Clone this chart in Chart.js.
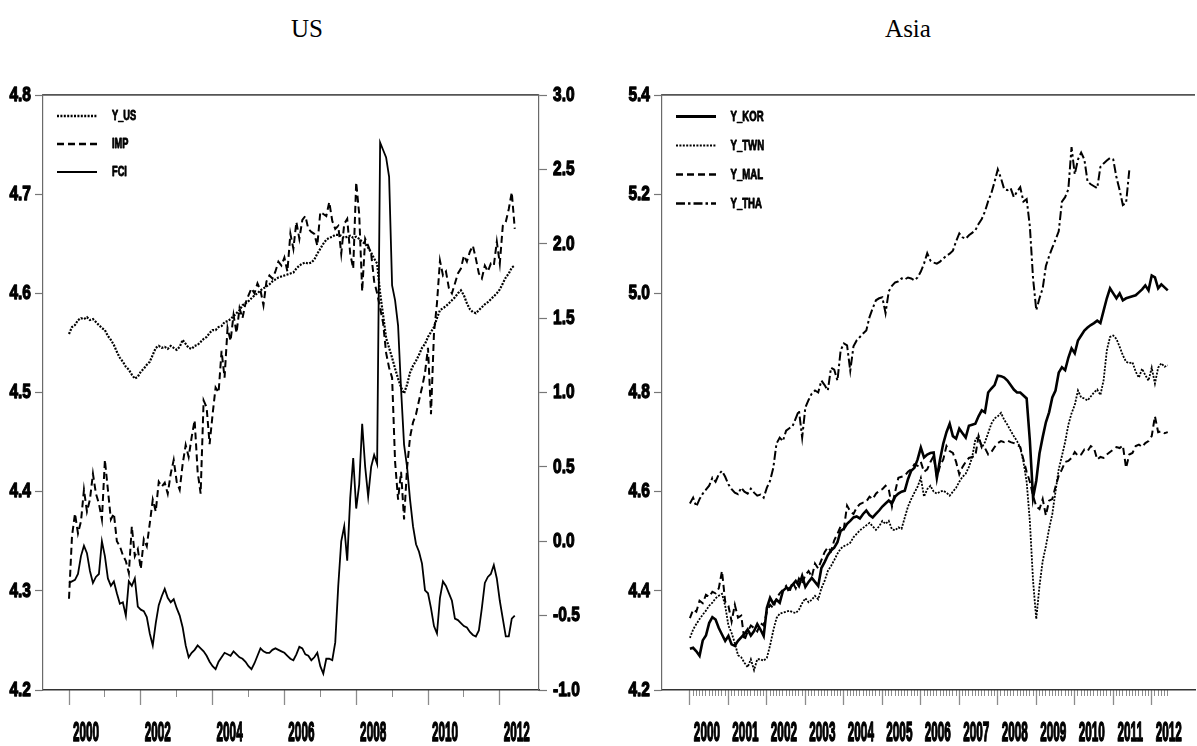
<!DOCTYPE html>
<html>
<head>
<meta charset="utf-8">
<script src="https://cdn.jsdelivr.net/npm/chart.js@4.4.1/dist/chart.umd.min.js"></script>
<style>
html,body{margin:0;padding:0;background:#fff;width:1197px;height:746px;overflow:hidden;position:relative;}
canvas{position:absolute;top:0;}
#cUS{left:0;}
#cAS{left:598px;}
.ttl{position:absolute;top:15px;font-family:'Liberation Serif','Times New Roman',serif;font-size:25px;line-height:28px;color:#000;transform:translateX(-50%);white-space:nowrap;}
</style>
</head>
<body>
<div class="ttl" style="left:307px">US</div>
<div class="ttl" style="left:908px">Asia</div>
<canvas id="cUS" width="590" height="746"></canvas>
<canvas id="cAS" width="599" height="746"></canvas>
<script>
// ---------- time index (monthly, starting 2000:01) ----------
const START_YEAR = 2000;
const N_MONTHS = 150;
const MONTH_T = Array.from({length: N_MONTHS}, (_, i) => START_YEAR + i / 12);

// ---------- tick labels ----------
const US_MINOR_YEARS = [2000,2001,2002,2003,2004,2005,2006,2007,2008,2009,2010,2011,2012];
const US_LABEL_YEARS = [2000,2002,2004,2006,2008,2010,2012];
const ASIA_LABEL_YEARS = [2000,2001,2002,2003,2004,2005,2006,2007,2008,2009,2010,2011,2012];
const US_LEFT_TICKS = [4.2,4.3,4.4,4.5,4.6,4.7,4.8];
const US_RIGHT_TICKS = [-1.0,-0.5,0.0,0.5,1.0,1.5,2.0,2.5,3.0];
const ASIA_TICKS = [4.2,4.4,4.6,4.8,5.0,5.2,5.4];

// ---------- US panel series ----------
const Y_US = [4.559,4.566,4.568,4.573,4.575,4.574,4.576,4.573,4.574,4.571,
4.568,4.565,4.563,4.557,4.553,4.548,4.541,4.535,4.531,4.526,
4.523,4.518,4.514,4.516,4.521,4.524,4.528,4.531,4.538,4.545,
4.547,4.545,4.546,4.544,4.547,4.545,4.543,4.546,4.553,4.549,
4.545,4.544,4.547,4.548,4.551,4.554,4.556,4.560,4.563,4.563,
4.566,4.567,4.571,4.572,4.574,4.577,4.580,4.583,4.588,4.590,
4.592,4.595,4.598,4.600,4.603,4.605,4.607,4.609,4.612,4.614,
4.616,4.617,4.618,4.619,4.620,4.621,4.625,4.628,4.630,4.631,
4.630,4.631,4.634,4.640,4.645,4.650,4.654,4.656,4.657,4.659,
4.659,4.658,4.656,4.657,4.658,4.656,4.657,4.655,4.652,4.650,
4.646,4.641,4.635,4.630,4.600,4.578,4.555,4.545,4.535,4.524,
4.514,4.505,4.499,4.508,4.520,4.527,4.532,4.538,4.545,4.549,
4.556,4.561,4.566,4.575,4.583,4.585,4.587,4.590,4.593,4.596,
4.600,4.603,4.598,4.590,4.584,4.581,4.580,4.583,4.586,4.589,
4.591,4.594,4.597,4.600,4.604,4.610,4.616,4.620,4.626,4.628];

const IMP = [4.292,4.355,4.378,4.358,4.370,4.402,4.380,4.392,4.418,4.398,
4.388,4.372,4.432,4.402,4.372,4.378,4.350,4.345,4.336,4.330,
4.318,4.365,4.335,4.342,4.322,4.352,4.345,4.368,4.392,4.380,
4.410,4.405,4.409,4.398,4.418,4.432,4.410,4.402,4.428,4.447,
4.435,4.455,4.472,4.420,4.398,4.492,4.485,4.448,4.478,4.505,
4.500,4.542,4.515,4.565,4.552,4.578,4.560,4.585,4.575,4.590,
4.598,4.605,4.600,4.610,4.603,4.588,4.612,4.618,4.615,4.622,
4.632,4.628,4.636,4.622,4.660,4.645,4.672,4.655,4.674,4.678,
4.665,4.662,4.660,4.648,4.682,4.680,4.678,4.692,4.673,4.665,
4.668,4.640,4.670,4.675,4.640,4.625,4.712,4.680,4.602,4.655,
4.648,4.640,4.612,4.600,4.585,4.570,4.540,4.525,4.515,4.430,
4.392,4.420,4.372,4.424,4.455,4.470,4.478,4.492,4.505,4.520,
4.545,4.478,4.560,4.590,4.633,4.618,4.622,4.605,4.600,4.610,
4.620,4.625,4.638,4.632,4.642,4.648,4.635,4.620,4.615,4.628,
4.622,4.630,4.628,4.652,4.630,4.668,4.672,4.685,4.702,4.665];

const FCI = [-0.28,-0.27,-0.26,-0.22,-0.10,-0.03,-0.08,-0.20,-0.28,-0.24,
-0.22,0.00,-0.10,-0.25,-0.30,-0.27,-0.35,-0.42,-0.41,-0.50,
-0.27,-0.30,-0.25,-0.44,-0.46,-0.47,-0.51,-0.62,-0.70,-0.55,
-0.43,-0.37,-0.32,-0.38,-0.41,-0.39,-0.45,-0.50,-0.58,-0.70,
-0.78,-0.75,-0.73,-0.70,-0.72,-0.74,-0.77,-0.81,-0.84,-0.86,
-0.81,-0.78,-0.75,-0.76,-0.77,-0.74,-0.76,-0.78,-0.79,-0.81,
-0.84,-0.86,-0.82,-0.77,-0.72,-0.74,-0.75,-0.75,-0.73,-0.72,
-0.73,-0.74,-0.75,-0.77,-0.79,-0.80,-0.76,-0.71,-0.72,-0.76,
-0.77,-0.80,-0.78,-0.75,-0.84,-0.89,-0.79,-0.79,-0.80,-0.68,
-0.30,0.00,0.10,-0.13,0.29,0.56,0.22,0.38,0.79,0.50,
0.30,0.50,0.58,0.52,2.68,2.63,2.58,2.45,1.72,1.62,
1.45,1.02,0.65,0.50,0.28,0.10,-0.02,-0.07,-0.15,-0.33,
-0.35,-0.45,-0.57,-0.62,-0.38,-0.27,-0.30,-0.35,-0.40,-0.52,
-0.53,-0.55,-0.57,-0.58,-0.61,-0.63,-0.64,-0.60,-0.45,-0.28,
-0.24,-0.22,-0.16,-0.25,-0.40,-0.52,-0.64,-0.64,-0.52,-0.50];

// ---------- Asia panel series ----------
const Y_KOR = [4.283,4.285,4.278,4.269,4.300,4.310,4.335,4.347,4.342,4.325,
4.312,4.299,4.309,4.292,4.289,4.299,4.306,4.313,4.322,4.310,
4.319,4.333,4.322,4.309,4.366,4.386,4.374,4.382,4.376,4.400,
4.406,4.404,4.412,4.420,4.410,4.430,4.408,4.418,4.426,4.418,
4.410,4.446,4.458,4.472,4.481,4.487,4.498,4.521,4.525,4.535,
4.541,4.548,4.550,4.546,4.555,4.562,4.553,4.548,4.555,4.562,
4.570,4.576,4.582,4.576,4.590,4.596,4.600,4.602,4.625,4.642,
4.648,4.665,4.689,4.669,4.675,4.678,4.679,4.628,4.665,4.697,
4.720,4.737,4.712,4.707,4.727,4.718,4.709,4.733,4.735,4.737,
4.752,4.764,4.760,4.800,4.808,4.815,4.834,4.833,4.830,4.824,
4.815,4.806,4.800,4.800,4.794,4.788,4.703,4.588,4.622,4.677,
4.710,4.740,4.760,4.790,4.804,4.840,4.851,4.845,4.870,4.889,
4.879,4.905,4.915,4.925,4.931,4.936,4.940,4.945,4.940,4.965,
4.990,5.010,5.000,4.990,5.000,4.986,4.990,4.992,4.994,4.996,
5.002,5.008,5.016,5.006,5.036,5.032,5.010,5.018,5.012,5.006];

const Y_TWN = [4.305,4.322,4.333,4.343,4.352,4.360,4.370,4.376,4.385,4.390,
4.394,4.370,4.330,4.315,4.295,4.270,4.266,4.255,4.246,4.262,
4.240,4.262,4.262,4.259,4.265,4.290,4.320,4.345,4.354,4.356,
4.358,4.360,4.357,4.355,4.362,4.375,4.385,4.377,4.382,4.390,
4.383,4.405,4.420,4.440,4.450,4.462,4.475,4.485,4.490,4.493,
4.497,4.508,4.515,4.522,4.527,4.532,4.537,4.530,4.523,4.530,
4.541,4.535,4.541,4.524,4.522,4.528,4.525,4.548,4.570,4.585,
4.598,4.610,4.628,4.590,4.605,4.612,4.600,4.596,4.600,4.602,
4.598,4.592,4.600,4.608,4.620,4.630,4.636,4.650,4.669,4.705,
4.712,4.689,4.700,4.718,4.737,4.748,4.752,4.759,4.745,4.735,
4.723,4.712,4.702,4.689,4.660,4.620,4.540,4.420,4.343,4.410,
4.460,4.490,4.525,4.555,4.600,4.645,4.672,4.700,4.735,4.758,
4.775,4.804,4.790,4.788,4.784,4.792,4.800,4.806,4.795,4.825,
4.885,4.912,4.915,4.908,4.892,4.875,4.862,4.859,4.861,4.842,
4.830,4.848,4.835,4.824,4.850,4.818,4.850,4.859,4.852,4.855];

const Y_MAL = [4.345,4.362,4.358,4.380,4.375,4.392,4.388,4.398,4.395,4.405,
4.440,4.378,4.370,4.338,4.372,4.346,4.350,4.300,4.318,4.330,
4.325,4.318,4.335,4.330,4.358,4.372,4.365,4.385,4.395,4.402,
4.410,4.396,4.418,4.405,4.425,4.415,4.432,4.440,4.428,4.455,
4.445,4.462,4.478,4.488,4.480,4.502,4.515,4.530,4.525,4.572,
4.560,4.555,4.568,4.575,4.578,4.580,4.590,4.585,4.596,4.602,
4.605,4.612,4.605,4.570,4.600,4.628,4.630,4.632,4.640,4.645,
4.655,4.652,4.660,4.640,4.645,4.660,4.672,4.630,4.652,4.665,
4.692,4.682,4.678,4.660,4.635,4.650,4.660,4.668,4.670,4.672,
4.712,4.690,4.688,4.675,4.680,4.690,4.698,4.702,4.700,4.703,
4.700,4.698,4.695,4.690,4.665,4.640,4.620,4.592,4.570,4.565,
4.585,4.552,4.582,4.585,4.610,4.632,4.645,4.660,4.662,4.668,
4.680,4.672,4.675,4.685,4.682,4.692,4.688,4.665,4.670,4.668,
4.675,4.680,4.685,4.690,4.688,4.693,4.648,4.675,4.678,4.692,
4.695,4.690,4.698,4.702,4.712,4.752,4.720,4.722,4.718,4.720];

const Y_THA = [4.576,4.588,4.570,4.585,4.596,4.604,4.612,4.628,4.620,4.635,
4.642,4.630,4.615,4.605,4.598,4.595,4.608,4.600,4.596,4.606,
4.598,4.592,4.594,4.588,4.608,4.622,4.648,4.697,4.709,4.702,
4.723,4.728,4.732,4.748,4.764,4.709,4.770,4.785,4.798,4.804,
4.800,4.824,4.815,4.804,4.850,4.846,4.824,4.885,4.899,4.895,
4.844,4.893,4.905,4.912,4.919,4.925,4.952,4.970,4.986,4.990,
4.992,4.960,5.004,5.015,5.022,5.024,5.030,5.028,5.032,5.030,
5.026,5.032,5.044,5.060,5.081,5.066,5.062,5.060,5.064,5.070,
5.076,5.080,5.086,5.105,5.121,5.113,5.110,5.117,5.122,5.127,
5.140,5.150,5.165,5.186,5.202,5.225,5.250,5.232,5.210,5.208,
5.212,5.194,5.205,5.214,5.185,5.190,5.135,5.030,4.966,4.990,
5.010,5.055,5.075,5.092,5.108,5.125,5.185,5.194,5.210,5.295,
5.240,5.270,5.284,5.270,5.225,5.220,5.216,5.212,5.255,5.262,
5.268,5.273,5.270,5.234,5.208,5.178,5.182,5.248];

// ---------- helpers ----------
const FONT = "'Liberation Sans', Arial, sans-serif";
// horizontal squeeze + extra stroke per font size (the original uses a tall, heavy condensed face)
const SQUEEZE = {28: 0.42, 21: 0.74, 14: 0.66, 15: 0.64};
const EMBOLDEN = {28: 1.6, 21: 1.3, 14: 0.9, 15: 0.9};
const TEXT_SHIFT = {14: 8, 15: 7};   // extra gap between legend sample line and its label
function condenseText(canvas) {
  const ctx = canvas.getContext('2d');
  const nativeFill = ctx.fillText;
  const nativeStroke = ctx.strokeText;
  ctx.fillText = function (text, x, y) {
    const m = /(\d+(?:\.\d+)?)px/.exec(this.font);
    const sz = m ? Math.round(parseFloat(m[1])) : 0;
    const f = SQUEEZE[sz] || 1;
    this.save();
    this.translate(x + (TEXT_SHIFT[sz] || 0), y);
    this.scale(f, 1);
    nativeFill.call(this, text, 0, 0);
    if (EMBOLDEN[sz]) {
      this.setLineDash([]);
      this.lineJoin = 'round';
      this.lineWidth = EMBOLDEN[sz];
      this.strokeStyle = this.fillStyle;
      nativeStroke.call(this, text, 0, 0);
    }
    this.restore();
  };
}
function series(vals) { return vals.map((v, i) => ({x: MONTH_T[i], y: v})); }
function line(label, vals, dash, width, yId) {
  return {label, data: series(vals), xAxisID: 'x', yAxisID: yId,
    borderColor: '#000', backgroundColor: '#000', borderWidth: width, borderDash: dash,
    pointRadius: 0, pointHoverRadius: 0, fill: false, tension: 0, spanGaps: false,
    borderCapStyle: 'butt', borderJoinStyle: 'miter'};
}
function setTicks(list) { return s => { s.ticks = list.map(v => ({value: v})); }; }
const TICK_GRAY = '#8c8c8c';
function yAxis(pos, min, max, list, width, padding) {
  return {type: 'linear', position: pos, min, max,
    afterBuildTicks: setTicks(list),
    afterFit: s => { s.width = width; },
    grid: {drawOnChartArea: false, drawTicks: true, tickLength: 8, tickColor: '#777', tickWidth: 1.2},
    border: {display: true, color: '#6a6a6a', width: 1.2},
    ticks: {padding, color: '#000', font: {family: FONT, size: 21, weight: 'bold'},
      callback: v => Number(v).toFixed(1)}};
}
function xScales(min, max, minorList, minorLen, labelList, labelOffset) {
  return {
    xTop: {type: 'linear', position: 'top', min, max,
      grid: {display: true, drawOnChartArea: false, drawTicks: false, lineWidth: 0},
      ticks: {display: false},
      border: {display: true, color: '#555', width: 1.8},
      afterFit: s => { s.height = 0; }},
    xMinor: {type: 'linear', position: 'bottom', min, max, weight: 0,
      afterBuildTicks: setTicks(minorList),
      grid: {drawOnChartArea: false, drawTicks: true, tickLength: minorLen, tickColor: TICK_GRAY, tickWidth: 1},
      ticks: {display: false}, border: {display: false},
      afterFit: s => { s.height = 0; }},
    x: {type: 'linear', position: 'bottom', min, max, weight: 1,
      afterBuildTicks: setTicks(labelList),
      grid: {drawOnChartArea: false, drawTicks: true, tickLength: 15, tickColor: TICK_GRAY, tickWidth: 1.3},
      border: {display: true, color: '#333', width: 1.5},
      ticks: {autoSkip: false, maxRotation: 0, minRotation: 0, labelOffset, padding: 14,
        color: '#000', font: {family: FONT, size: 28, weight: 'bold', lineHeight: 1},
        callback: v => String(Math.round(v))},
      afterFit: s => { s.height = 56; }}
  };
}
function legendOpts(size, padding) {
  return {position: 'chartArea', align: 'start',
    labels: {usePointStyle: true, pointStyle: 'line', pointStyleWidth: 40, boxHeight: size,
      padding, color: '#000', font: {family: FONT, size, weight: 'bold'},
      generateLabels: chart => chart.data.datasets.map((ds, i) => ({
        text: ds.label, datasetIndex: i, hidden: false,
        fillStyle: ds.borderColor, strokeStyle: ds.borderColor, fontColor: '#000',
        lineWidth: ds.borderWidth + 0.4, lineDash: ds.borderDash, lineCap: 'butt',
        pointStyle: 'line', rotation: 0}))}};
}
// the chartArea legend is laid out from y=0; put it inside the plot frame
const legendInside = {id: 'legendInside', beforeDraw(chart) {
  if (chart.legend) {
    chart.legend.top = chart.chartArea.top;
    chart.legend.bottom = chart.chartArea.bottom;
  }
}};

// ---------- US chart ----------
const cUS = document.getElementById('cUS');
condenseText(cUS);
const US_MIN = 2000 - 26 / 35.9, US_MAX = US_MIN + 496 / 35.9;
new Chart(cUS, {
  type: 'line',
  data: {datasets: [
    line('Y_US', Y_US, [2, 1.4], 2.2, 'y'),
    line('IMP', IMP, [7, 4], 2, 'y'),
    line('FCI', FCI, [], 1.8, 'y2')
  ]},
  options: {
    responsive: false, animation: false, devicePixelRatio: 1,
    layout: {padding: {top: 95, left: 0, right: 0, bottom: 0}},
    plugins: {legend: legendOpts(14, 14), tooltip: {enabled: false}, title: {display: false}},
    scales: Object.assign(
      xScales(US_MIN, US_MAX, US_MINOR_YEARS, 7, US_LABEL_YEARS, 17),
      {y: yAxis('left', 4.2, 4.8, US_LEFT_TICKS, 43, 4),
       y2: yAxis('right', -1.0, 3.0, US_RIGHT_TICKS, 51, 6)})
  },
  plugins: [legendInside]
});

// ---------- Asia chart ----------
const cAS = document.getElementById('cAS');
condenseText(cAS);
const AS_MIN = 2000 - 28 / 38.6, AS_MAX = AS_MIN + 535 / 38.6;
new Chart(cAS, {
  type: 'line',
  data: {datasets: [
    line('Y_KOR', Y_KOR, [], 2.6, 'y'),
    line('Y_TWN', Y_TWN, [2, 1.4], 1.8, 'y'),
    line('Y_MAL', Y_MAL, [7, 4], 2, 'y'),
    line('Y_THA', Y_THA, [9, 3, 2.5, 3], 2, 'y')
  ]},
  options: {
    responsive: false, animation: false, devicePixelRatio: 1,
    layout: {padding: {top: 95, left: 0, right: 0, bottom: 0}},
    plugins: {legend: legendOpts(15, 14), tooltip: {enabled: false}, title: {display: false}},
    scales: Object.assign(
      xScales(AS_MIN, AS_MAX, MONTH_T, 6, ASIA_LABEL_YEARS, 17),
      {y: yAxis('left', 4.2, 5.4, ASIA_TICKS, 64, 4)})
  },
  plugins: [legendInside]
});
</script>
</body>
</html>
